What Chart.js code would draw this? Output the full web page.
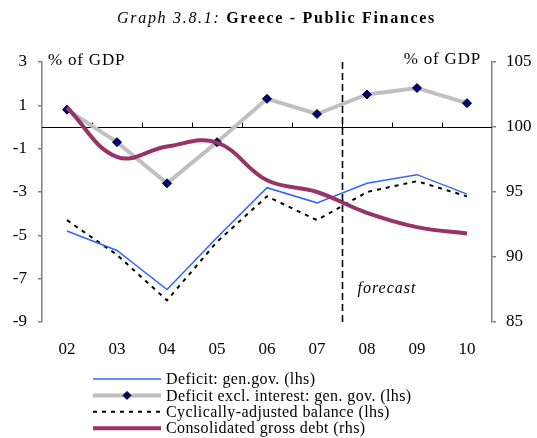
<!DOCTYPE html>
<html>
<head>
<meta charset="utf-8">
<script src="https://cdn.jsdelivr.net/npm/chart.js@4/dist/chart.umd.min.js"></script>
<style>
  html, body { margin: 0; padding: 0; background: #fff; }
  #wrap { width: 537px; height: 438px; }
</style>
</head>
<body>
<div id="wrap"><canvas id="greeceChart" width="537" height="438"></canvas></div>
<script>
// years on the x axis
var years = ['02', '03', '04', '05', '06', '07', '08', '09', '10'];
// % of GDP, left axis
var deficitGenGov = [-4.8, -5.7, -7.5, -5.1, -2.8, -3.5, -2.6, -2.2, -3.1];
var deficitExclInterest = [0.8, -0.7, -2.6, -0.7, 1.3, 0.6, 1.5, 1.8, 1.1];
var cyclicallyAdjusted = [-4.3, -5.9, -8.0, -5.3, -3.2, -4.3, -3.0, -2.5, -3.2];
// % of GDP, right axis
var grossDebt = [101.5, 97.7, 98.5, 98.8, 95.9, 95.0, 93.4, 92.3, 91.8];
// last outturn year, forecast starts after it
var lastOutturn = '07';

var SERIF = '"Liberation Serif", "Times New Roman", serif';
var AXIS_GREY = '#808080';

var legendItems = [
	{ text: 'Deficit: gen.gov. (lhs)', color: '#3366ff', width: 1.5, dash: [] },
	{ text: 'Deficit excl. interest: gen. gov. (lhs)', color: '#c0c0c0', width: 4, dash: [], marker: true },
	{ text: 'Cyclically-adjusted balance (lhs)', color: '#000000', width: 2, dash: [4, 5] },
	{ text: 'Consolidated gross debt (rhs)', color: '#993366', width: 4, dash: [] }
];

// zero line, category ticks and the forecast divider
var decorations = {
	id: 'decorations',
	beforeDatasetsDraw: function (chart) {
		var ctx = chart.ctx, a = chart.chartArea;
		var x = chart.scales.x, y = chart.scales.y;
		var y0 = Math.round(y.getPixelForValue(0)) + 0.5;
		ctx.save();
		ctx.strokeStyle = '#000';
		ctx.lineWidth = 1;
		ctx.beginPath();
		ctx.moveTo(a.left, y0);
		ctx.lineTo(a.right, y0);
		for (var i = 0; i < years.length - 1; i++) {
			var bx = Math.round((x.getPixelForValue(i) + x.getPixelForValue(i + 1)) / 2) + 0.5;
			ctx.moveTo(bx, y0);
			ctx.lineTo(bx, y0 - 5);
		}
		ctx.stroke();
		ctx.restore();
	},
	afterDatasetsDraw: function (chart) {
		var ctx = chart.ctx, a = chart.chartArea;
		var x = chart.scales.x, y = chart.scales.y;
		var k = years.indexOf(lastOutturn);
		var fx = Math.round((x.getPixelForValue(k) + x.getPixelForValue(k + 1)) / 2) + 0.5;
		ctx.save();
		ctx.strokeStyle = '#000';
		ctx.lineWidth = 1.6;
		ctx.setLineDash([7, 4]);
		ctx.beginPath();
		ctx.moveTo(fx, a.top);
		ctx.lineTo(fx, a.bottom);
		ctx.stroke();
		ctx.setLineDash([]);
		ctx.fillStyle = '#000';
		ctx.font = 'italic 16px ' + SERIF;
		ctx.letterSpacing = '1px';
		ctx.textBaseline = 'alphabetic';
		ctx.textAlign = 'left';
		ctx.fillText('forecast', fx + 15, y.getPixelForValue(-7.65));
		ctx.restore();
	},
	afterDraw: function (chart) {
		var ctx = chart.ctx, a = chart.chartArea;
		ctx.save();
		ctx.fillStyle = '#000';

		// title: italic number, bold name
		var t1 = 'Graph 3.8.1: ', t2 = 'Greece - Public Finances';
		ctx.letterSpacing = '1.7px';
		ctx.font = 'italic 16px ' + SERIF;
		var w1 = ctx.measureText(t1).width;
		ctx.font = 'bold 16px ' + SERIF;
		var w2 = ctx.measureText(t2).width;
		var tx = chart.width / 2 + 8 - (w1 + w2) / 2;
		ctx.textBaseline = 'alphabetic';
		ctx.textAlign = 'left';
		ctx.font = 'italic 16px ' + SERIF;
		ctx.fillText(t1, tx, 23);
		ctx.font = 'bold 16px ' + SERIF;
		ctx.fillText(t2, tx + w1, 23);

		// unit captions
		ctx.letterSpacing = '0.8px';
		ctx.font = '17px ' + SERIF;
		ctx.fillText('% of GDP', a.left + 6, a.top + 3);
		ctx.textAlign = 'right';
		ctx.fillText('% of GDP', a.right - 11, a.top + 2);

		// legend
		ctx.letterSpacing = '0.4px';
		ctx.textAlign = 'left';
		ctx.textBaseline = 'middle';
		ctx.font = '16px ' + SERIF;
		var lx0 = 93, lx1 = 161, ly = 379;
		legendItems.forEach(function (item, i) {
			var yy = ly + i * 16.4;
			ctx.strokeStyle = item.color;
			ctx.lineWidth = item.width;
			ctx.setLineDash(item.dash);
			ctx.beginPath();
			ctx.moveTo(lx0, yy);
			ctx.lineTo(lx1, yy);
			ctx.stroke();
			ctx.setLineDash([]);
			if (item.marker) {
				var mx = (lx0 + lx1) / 2;
				ctx.beginPath();
				ctx.moveTo(mx, yy - 4);
				ctx.lineTo(mx + 4, yy);
				ctx.lineTo(mx, yy + 4);
				ctx.lineTo(mx - 4, yy);
				ctx.closePath();
				ctx.fillStyle = '#000080';
				ctx.fill();
				ctx.strokeStyle = '#000';
				ctx.lineWidth = 1;
				ctx.stroke();
				ctx.fillStyle = '#000';
			}
			ctx.fillText(item.text, lx1 + 5, yy + 1);
		});
		ctx.restore();
	}
};

var ctx = document.getElementById('greeceChart').getContext('2d');
var chart = new Chart(ctx, {
	type: 'line',
	data: {
		labels: years,
		datasets: [{
			label: 'Consolidated gross debt (rhs)',
			data: grossDebt,
			yAxisID: 'y1',
			borderColor: '#993366',
			borderWidth: 4,
			tension: 0.4,
			pointRadius: 0
		}, {
			label: 'Deficit excl. interest: gen. gov. (lhs)',
			data: deficitExclInterest,
			yAxisID: 'y',
			borderColor: '#c0c0c0',
			borderWidth: 4,
			tension: 0,
			pointStyle: 'rectRot',
			pointRadius: 4.5,
			pointBackgroundColor: '#000080',
			pointBorderColor: '#000000',
			pointBorderWidth: 1
		}, {
			label: 'Deficit: gen.gov. (lhs)',
			data: deficitGenGov,
			yAxisID: 'y',
			borderColor: '#3366ff',
			borderWidth: 1.5,
			tension: 0,
			pointRadius: 0
		}, {
			label: 'Cyclically-adjusted balance (lhs)',
			data: cyclicallyAdjusted,
			yAxisID: 'y',
			borderColor: '#000000',
			borderWidth: 2,
			borderDash: [4, 5],
			tension: 0,
			pointRadius: 0
		}]
	},
	options: {
		responsive: false,
		animation: false,
		events: [],
		layout: { padding: { top: 62, left: 0, right: 0, bottom: 0 } },
		plugins: {
			legend: { display: false },
			title: { display: false },
			tooltip: { enabled: false }
		},
		scales: {
			x: {
				offset: true,
				grid: { display: false },
				border: { display: false },
				ticks: { color: '#000', padding: 9, font: { family: SERIF, size: 17 } },
				afterFit: function (s) { s.height = 116; }
			},
			y: {
				position: 'left',
				min: -9,
				max: 3,
				ticks: { stepSize: 2, color: '#000', padding: 11, font: { family: SERIF, size: 17 } },
				grid: { drawOnChartArea: false, drawTicks: true, tickLength: 4, color: AXIS_GREY, lineWidth: 1.5 },
				border: { display: true, color: AXIS_GREY, width: 1.5 },
				afterFit: function (s) { s.width = 42; }
			},
			y1: {
				position: 'right',
				min: 85,
				max: 105,
				ticks: { stepSize: 5, color: '#000', padding: 10, font: { family: SERIF, size: 17 } },
				grid: { drawOnChartArea: false, drawTicks: true, tickLength: 4, color: AXIS_GREY, lineWidth: 1.5 },
				border: { display: true, color: AXIS_GREY, width: 1.5 },
				afterFit: function (s) { s.width = 45; }
			}
		}
	},
	plugins: [decorations]
});
</script>
</body>
</html>
